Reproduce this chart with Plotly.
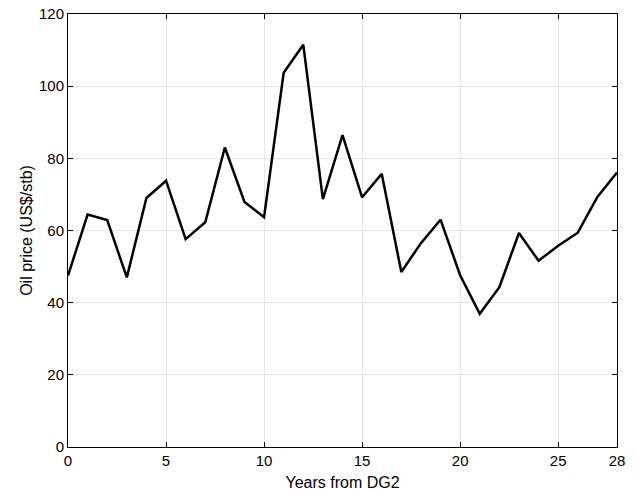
import plotly.graph_objects as go

years = list(range(29))
oil_price = [47.5, 64.4, 62.9, 47.0, 69.0, 73.8, 57.6, 62.3, 83.0, 67.9, 63.7,
             103.7, 111.5, 68.7, 86.4, 69.2, 75.7, 48.5, 56.5, 63.0, 47.6,
             36.9, 44.3, 59.3, 51.6, 55.8, 59.4, 69.3, 76.1]
x_ticks = [0, 5, 10, 15, 20, 25, 28]
y_ticks = [0, 20, 40, 60, 80, 100, 120]

FONT = "Liberation Sans, Arial, Helvetica"

fig = go.Figure()
fig.add_trace(go.Scatter(x=years, y=oil_price, mode="lines",
                         line=dict(color="black", width=2.5), showlegend=False))

axis_common = dict(showline=True, linecolor="black", linewidth=1, mirror="ticks",
                   ticks="inside", ticklen=5, tickcolor="black", tickwidth=1,
                   showgrid=True, gridcolor="#e6e6e6", gridwidth=1, zeroline=False,
                   automargin=False,
                   tickfont=dict(family=FONT, size=15, color="black"))

fig.update_layout(
    width=634, height=494,
    margin=dict(l=68, r=17, t=14, b=47),
    plot_bgcolor="white", paper_bgcolor="white",
    xaxis=dict(range=[0, 28], tickvals=x_ticks,
               title=dict(text="Years from DG2", standoff=8,
                          font=dict(family=FONT, size=16, color="black")),
               **axis_common),
    yaxis=dict(range=[0, 120], tickvals=y_ticks,
               title=dict(text="Oil price (US$/stb)", standoff=2,
                          font=dict(family=FONT, size=16, color="black")),
               **axis_common),
)

fig.write_html("out.html")
